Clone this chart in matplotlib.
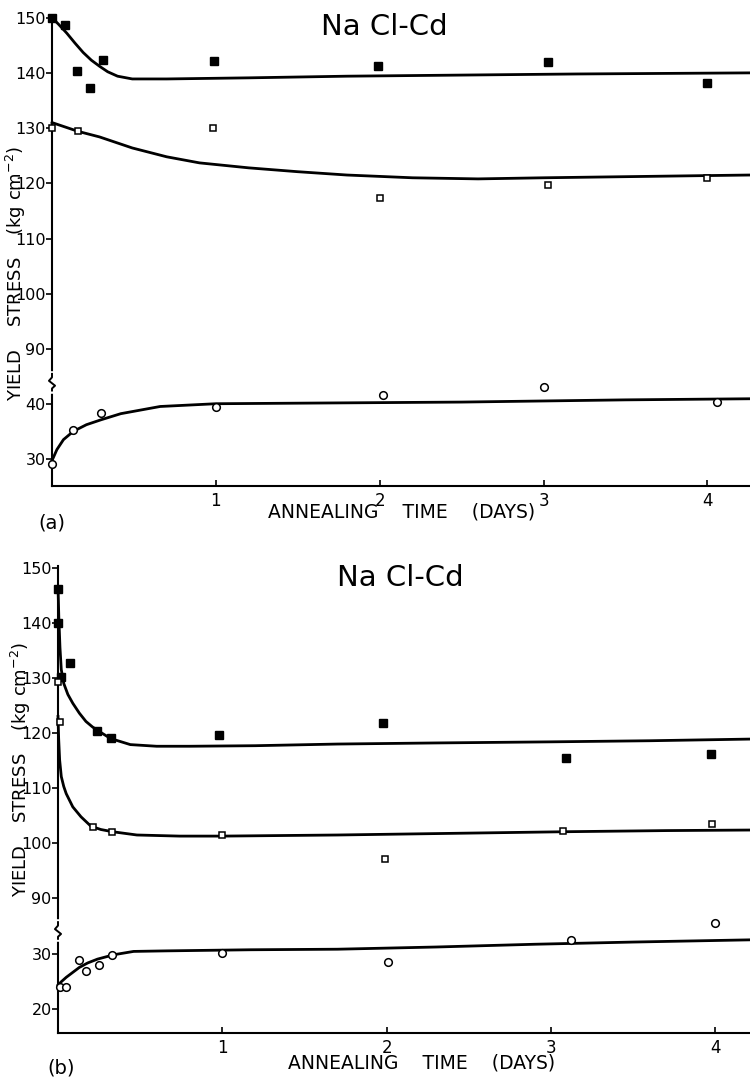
import numpy as np
import matplotlib
matplotlib.use('Agg')
import matplotlib.pyplot as plt
from matplotlib.transforms import Affine2D, ScaledTranslation

# ---- datos panel (a) ----
a_lleno_x = [0.0, 0.08, 0.15, 0.23, 0.31, 0.99, 1.99, 3.03, 4.0]
a_lleno_y = [150.0, 148.7, 140.3, 137.3, 142.3, 142.2, 141.2, 142.0, 138.1]
a_hueco_x = [0.0, 0.16, 0.985, 2.0, 3.03, 4.0]
a_hueco_y = [130.1, 129.4, 130.1, 117.3, 119.7, 121.0]
a_circ_x = [0.0, 0.13, 0.30, 1.0, 2.02, 3.0, 4.06]
a_circ_y = [29.2, 35.4, 38.4, 39.5, 41.7, 43.2, 40.4]

# curvas trazadas a mano
a_curva_lleno_x = [0, 0.04, 0.09, 0.14, 0.19, 0.24, 0.29, 0.34, 0.40, 0.49, 0.7, 1.2, 1.8, 2.5, 3.2, 4.26]
a_curva_lleno_y = [150, 148.8, 147.2, 145.4, 143.7, 142.3, 141.2, 140.2, 139.4, 138.9, 138.9, 139.1, 139.4, 139.6, 139.8, 140.0]
a_curva_hueco_x = [0, 0.16, 0.29, 0.49, 0.7, 0.9, 1.2, 1.5, 1.8, 2.2, 2.6, 3.0, 3.5, 4.0, 4.26]
a_curva_hueco_y = [131.0, 129.4, 128.4, 126.4, 124.8, 123.7, 122.8, 122.1, 121.5, 121.0, 120.8, 121.0, 121.2, 121.4, 121.5]
a_curva_circ_x = [0, 0.03, 0.07, 0.13, 0.21, 0.30, 0.42, 0.66, 1.0, 1.5, 2.0, 2.5, 3.0, 3.5, 4.26]
a_curva_circ_y = [29.8, 31.8, 33.6, 35.1, 36.3, 37.2, 38.3, 39.6, 40.1, 40.2, 40.3, 40.4, 40.6, 40.8, 41.0]

# ---- datos panel (b) ----
b_lleno_x = [0.0, 0.0, 0.07, 0.02, 0.24, 0.32, 0.98, 1.98, 3.09, 3.97]
b_lleno_y = [146.2, 140.0, 132.7, 130.2, 120.4, 119.1, 119.6, 121.8, 115.5, 116.2]
b_hueco_x = [0.0, 0.01, 0.21, 0.33, 1.0, 1.99, 3.07, 3.98]
b_hueco_y = [129.3, 122.0, 102.9, 102.0, 101.5, 97.1, 102.2, 103.5]
b_circ_x = [0.01, 0.05, 0.13, 0.17, 0.25, 0.33, 1.0, 2.01, 3.12, 4.0]
b_circ_y = [24.0, 24.0, 28.9, 26.9, 28.0, 29.8, 30.2, 28.4, 32.5, 35.6]

b_curva_lleno_x = [0, 0.005, 0.012, 0.02, 0.035, 0.06, 0.09, 0.13, 0.17, 0.21, 0.25, 0.32, 0.44, 0.6, 0.8, 1.2, 1.7, 2.3, 3.0, 3.6, 4.21]
b_curva_lleno_y = [146.6, 141, 135.5, 131.5, 129.0, 127.0, 125.4, 123.6, 122.1, 121.1, 120.3, 119.0, 117.9, 117.6, 117.6, 117.7, 118.0, 118.2, 118.4, 118.6, 118.9]
b_curva_hueco_x = [0, 0.004, 0.01, 0.02, 0.035, 0.05, 0.09, 0.14, 0.2, 0.26, 0.33, 0.48, 0.74, 1.0, 1.7, 2.4, 3.1, 3.7, 4.21]
b_curva_hueco_y = [123, 119, 115.1, 112.1, 110.3, 109, 106.6, 104.8, 103.1, 102.5, 102.1, 101.5, 101.3, 101.3, 101.5, 101.8, 102.1, 102.3, 102.4]
b_curva_circ_x = [0, 0.02, 0.05, 0.09, 0.13, 0.18, 0.24, 0.34, 0.46, 0.66, 1.17, 1.7, 2.3, 2.9, 3.5, 4.21]
b_curva_circ_y = [24.3, 24.9, 25.7, 26.6, 27.5, 28.3, 29.0, 29.8, 30.4, 30.5, 30.7, 30.8, 31.2, 31.7, 32.1, 32.5]

# ticks
a_yticks = [30, 40, 90, 100, 110, 120, 130, 140, 150]
b_yticks = [20, 30, 90, 100, 110, 120, 130, 140, 150]
xticks = [1, 2, 3, 4]

titulo = 'Na Cl-Cd'
etiqueta_y = 'YIELD    STRESS    (kg cm$^{-2}$)'
etiqueta_x = 'ANNEALING    TIME    (DAYS)'


def escala_cortada(lo_top, hi_bottom):
    # eje con corte: valores bajos desplazados para pegarlos a los altos
    real = [-1000, lo_top, hi_bottom, 1000]
    disp = [-1000 + (hi_bottom - lo_top), hi_bottom, hi_bottom + 0.02, 1000.02]
    return (lambda v: np.interp(v, real, disp),
            lambda d: np.interp(d, disp, real))


fig = plt.figure(figsize=(7.5, 10.78), dpi=100)
ax_a = fig.add_axes([52 / 750, (1078 - 486) / 1078, 698 / 750, 470 / 1078])
ax_b = fig.add_axes([58 / 750, (1078 - 1033) / 1078, 692 / 750, 467 / 1078])

paneles = [
    (ax_a, (44, 84), (25.2, 150.3), 4.26, a_yticks, 44,
     [(a_curva_lleno_x, a_curva_lleno_y), (a_curva_hueco_x, a_curva_hueco_y), (a_curva_circ_x, a_curva_circ_y)],
     (a_lleno_x, a_lleno_y), (a_hueco_x, a_hueco_y), (a_circ_x, a_circ_y)),
    (ax_b, (36, 86), (15.6, 150.3), 4.21, b_yticks, 34.2,
     [(b_curva_lleno_x, b_curva_lleno_y), (b_curva_hueco_x, b_curva_hueco_y), (b_curva_circ_x, b_curva_circ_y)],
     (b_lleno_x, b_lleno_y), (b_hueco_x, b_hueco_y), (b_circ_x, b_circ_y)),
]

for ax, corte, ylim, xmax, yticks, y_corte, curvas, lleno, hueco, circ in paneles:
    ax.set_yscale('function', functions=escala_cortada(*corte))
    ax.set_ylim(*ylim)
    ax.set_xlim(0, xmax)

    for cx, cy in curvas:
        ax.plot(cx, cy, color='black', lw=2.0, zorder=2, clip_on=False)

    ax.plot(lleno[0], lleno[1], 's', ms=5.5, color='black', zorder=4, clip_on=False)
    ax.plot(hueco[0], hueco[1], 's', ms=5, mfc='white', mec='black', mew=1.1, zorder=4, clip_on=False)
    ax.plot(circ[0], circ[1], 'o', ms=5.5, mfc='white', mec='black', mew=1.1, zorder=4, clip_on=False)

    for lado in ['top', 'right', 'left']:
        ax.spines[lado].set_visible(False)
    ax.spines['bottom'].set_linewidth(1.5)

    # eje y dibujado a mano con el corte en zigzag
    ty = ax.get_yaxis_transform()
    ax.plot([0, 0], list(ylim), color='black', lw=1.5, transform=ty, clip_on=False, zorder=3)
    tz = Affine2D().scale(1 / 72.) + fig.dpi_scale_trans + ScaledTranslation(0, y_corte, ty)
    ax.plot([0, 0], [-6, 6], color='white', lw=4, transform=tz, clip_on=False, zorder=3)
    ax.plot([0, 0, -2.2, 2.2, 0, 0], [6, 3.5, 1.0, -2.5, -4.5, -6], color='black', lw=1.4,
            transform=tz, clip_on=False, zorder=3)

    ax.set_yticks(yticks)
    ax.set_yticklabels([str(t) for t in yticks])
    ax.set_xticks(xticks)
    ax.set_xticklabels([str(t) for t in xticks])
    ax.minorticks_off()
    ax.tick_params(axis='y', direction='out', length=4, width=1.2, pad=0.5, labelsize=11.5)
    ax.tick_params(axis='x', direction='in', length=4, width=1.2, pad=4, labelsize=12)

    ax.set_ylabel(etiqueta_y, fontsize=13)
    ax.set_xlabel(etiqueta_x, fontsize=13.5)

ax_a.yaxis.set_label_coords(-0.034, 0.453)
ax_a.xaxis.set_label_coords(0.501, -0.036)
ax_b.yaxis.set_label_coords(-0.036, 0.565)
ax_b.xaxis.set_label_coords(0.526, -0.043)

fig.text(384 / 750, 1 - 27 / 1078, titulo, ha='center', va='center', fontsize=21)
fig.text(400 / 750, 1 - 578 / 1078, titulo, ha='center', va='center', fontsize=21)
fig.text(52 / 750, 1 - 523 / 1078, '(a)', ha='center', va='center', fontsize=14)
fig.text(61 / 750, 1 - 1068 / 1078, '(b)', ha='center', va='center', fontsize=14)

fig.savefig('out.png', dpi=100)
